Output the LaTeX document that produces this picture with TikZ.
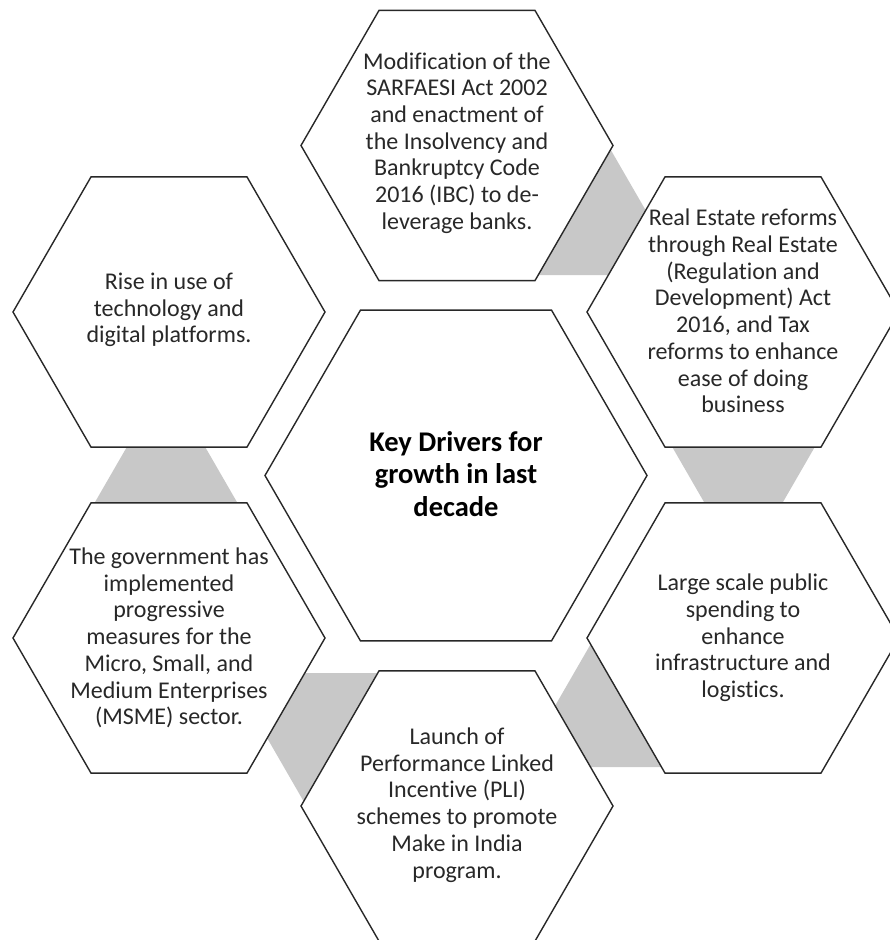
\documentclass[tikz,border=0pt]{standalone}
\usepackage{fontspec}
\setmainfont{Carlito}[Ligatures={NoCommon,NoContextual}]
\definecolor{linkgray}{RGB}{200,200,200}
\definecolor{inkgray}{RGB}{40,40,40}
\begin{document}
\begin{tikzpicture}[x=1pt,y=-1pt,
  hexbox/.style={draw=inkgray, line width=1.4pt, fill=white, line join=miter},
  linkhex/.style={fill=linkgray, draw=none},
  txt/.style={align=center, font=\fontsize{24}{26.7}\selectfont, text=inkgray, inner sep=0pt},
  ctxt/.style={align=center, font=\fontsize{28.5}{32.5}\selectfont\bfseries, text=black, inner sep=0pt}]
\clip (0,0) rectangle (890,940);
\fill[white] (0,0) rectangle (890,940);
% gray links (behind the hexagons; only the gaps show)
\fill[linkhex] (596.4,125) -- (660.5,236) -- (660.5,275) -- (520,275) -- cycle;          % top -> real estate
\foreach \cx/\cy in {743.5/433.6, 166/516}
  \fill[linkhex] (\cx,\cy) ++(0:79) -- ++(120:79) -- ++(180:79) -- ++(240:79) -- ++(300:79) -- ++(0:79) -- cycle;
\fill[linkhex] (541.1,730) -- (604.6,620) -- (680,620) -- (680,767) -- (560,767) -- cycle; % infra -> pli
\fill[linkhex] (245.2,700) -- (285,673) -- (400,673) -- (400,830) -- (320.2,830) -- cycle;   % pli -> msme
% outer hexagons and centre hexagon
\foreach \cx/\cy/\r in {457/145.5/156, 743/312/156, 743/638/156, 457/806/156, 169/638/156, 169/312/156, 456/475.5/191}
  \draw[hexbox] (\cx,\cy) ++(0:\r) -- ++(120:\r) -- ++(180:\r) -- ++(240:\r) -- ++(300:\r) -- ++(0:\r) -- cycle;
% texts
\node[txt] (top) at (457,143) {Modification of the\\SARFAESI Act 2002\\and enactment of\\the Insolvency and\\Bankruptcy Code\\2016 (IBC) to de-\\leverage banks.};
\node[txt] (realestate) at (743,311) {Real Estate reforms\\through Real Estate\\(Regulation and\\Development) Act\\2016, and Tax\\reforms to enhance\\ease of doing\\business};
\node[txt] (infra) at (743,638) {Large scale public\\spending to\\enhance\\infrastructure and\\logistics.};
\node[txt] (pli) at (457,805) {Launch of\\Performance Linked\\Incentive (PLI)\\schemes to promote\\Make in India\\program.};
\node[txt] (msme) at (169,638) {The government has\\implemented\\progressive\\measures for the\\Micro, Small, and\\Medium Enterprises\\(MSME) sector.};
\node[txt] (tech) at (169,310) {Rise in use of\\technology and\\digital platforms.};
\node[ctxt] (centre) at (456,474) {Key Drivers for\\growth in last\\decade};
\end{tikzpicture}
\end{document}
